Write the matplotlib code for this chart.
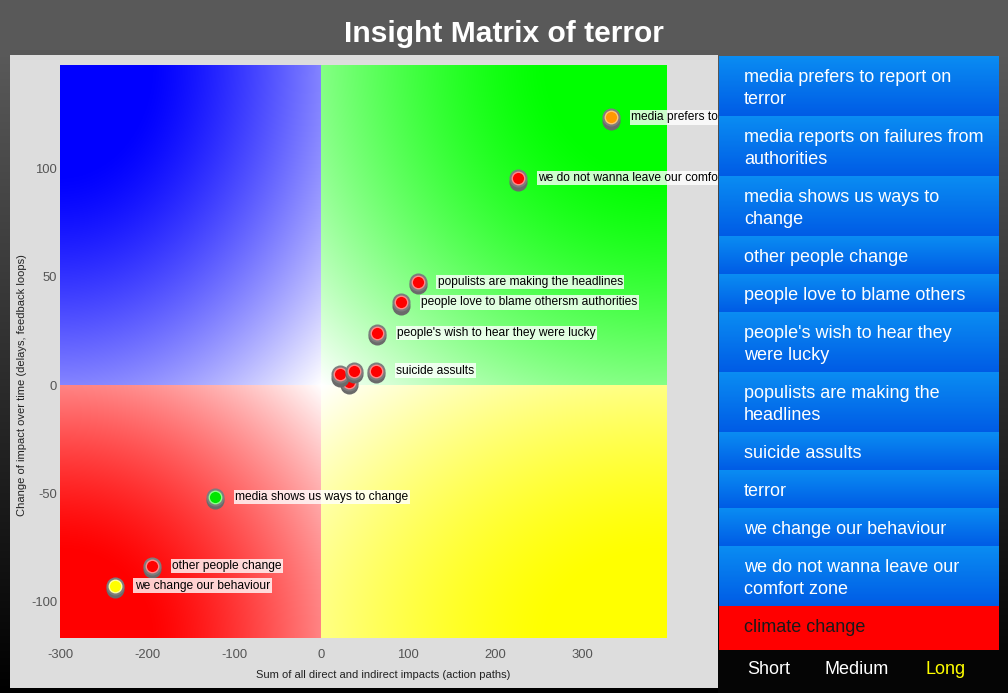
import matplotlib as mpl
mpl.use("Agg")

import matplotlib.pyplot as plt              # noqa
import numpy as np                           # noqa
from matplotlib.patches import Rectangle     # noqa
from matplotlib.transforms import offset_copy  # noqa

plt.rcParams['font.family'] = ['Liberation Sans', 'DejaVu Sans']
plt.rcParams['axes.unicode_minus'] = False

# ---- data ----
title = 'Insight Matrix of terror'
xlabel = 'Sum of all direct and indirect impacts (action paths)'
ylabel = 'Change of impact over time (delays, feedback loops)'

# drawing order matters: later points sit on top of earlier ones
point_names = ['climate change', 'terror', 'media reports on failures from authorities',
               'suicide assults', "people's wish to hear they were lucky",
               'people love to blame others', 'populists are making the headlines',
               'we do not wanna leave our comfort zone', 'media prefers to report on terror',
               'media shows us ways to change', 'other people change', 'we change our behaviour']
point_labels = ['', '', '',
                'suicide assults', "people's wish to hear they were lucky",
                'people love to blame othersm authorities', 'populists are making the headlines',
                'we do not wanna leave our comfort zone', 'media prefers to report on terror',
                'media shows us ways to change', 'other people change', 'we change our behaviour']
x_vals = [32, 22, 38, 63, 64, 92, 111, 226, 333, -122, -194, -237]
y_vals = [1.4, 5.0, 6.5, 6.5, 24.0, 38.2, 47.5, 95.4, 123.5, -51.6, -83.4, -92.6]
point_kind = ['red', 'red', 'red', 'red', 'red', 'red', 'red', 'red', 'orange',
              'green', 'red', 'yellow']

xticks = [-300, -200, -100, 0, 100, 200, 300]
yticks = [-100, -50, 0, 50, 100]
xlim = (-300, 397)
ylim = (-116.6, 147.5)

panel_items = ['media prefers to report on\nterror', 'media reports on failures from\nauthorities',
               'media shows us ways to\nchange', 'other people change',
               'people love to blame others', "people's wish to hear they\nwere lucky",
               'populists are making the\nheadlines', 'suicide assults', 'terror',
               'we change our behaviour', 'we do not wanna leave our\ncomfort zone',
               'climate change']
selected_item = 'climate change'
horizons = ['Short', 'Medium', 'Long']
active_horizon = 'Long'

# ---- styles ----
kind_colors = {'red': ('#ff0000', '#ff8a8a'), 'orange': ('#ff9900', '#ffc870'),
               'green': ('#00e600', '#8cff8c'), 'yellow': ('#ffff00', '#ffffa0')}

W, H = 1008, 693
fig = plt.figure(figsize=(W / 100, H / 100), dpi=100)

# full-figure pixel axes for the frame, title and side panel
axf = fig.add_axes([0, 0, 1, 1], zorder=0)
axf.set_xlim(0, W)
axf.set_ylim(H, 0)
axf.axis('off')

grad = np.ones((H, 1, 3))
v = np.clip((np.arange(H) - 55) / (H - 55), 0, 1)
shade = 0.35 * (1 - v)
grad[:, 0, :] = shade[:, None]
axf.imshow(grad, extent=[0, W, H, 0], aspect='auto', interpolation='bilinear', zorder=0)

chart_rect = Rectangle((10, 55), 708, 633, facecolor='#dddddd', edgecolor='none', zorder=1)
axf.add_patch(chart_rect)

axf.text(W / 2, 42, title, color='white', fontsize=21.6, fontweight='bold',
         ha='center', va='baseline', zorder=5)
axf.text(383, 675, xlabel, fontsize=8, color='#222222', ha='center', va='center', zorder=5)
axf.text(22, 385, ylabel, fontsize=8, color='#222222', ha='center', va='center',
         rotation=90, zorder=5)

# side panel
top = 56
for item in panel_items:
    lines = item.split('\n')
    h = 16 + 22 * len(lines)
    if item == selected_item:
        h += 6
        axf.add_patch(Rectangle((719, top), 280, h, facecolor='#ff0000', edgecolor='none', zorder=2))
        tcol = '#1a1a1a'
    else:
        g = np.linspace(0, 1, 50)[:, None, None]
        ctop = np.array([0.04, 0.55, 0.95])
        cbot = np.array([0.0, 0.36, 0.90])
        axf.imshow(ctop + g * (cbot - ctop), extent=[719, 999, top + h, top],
                   aspect='auto', interpolation='bilinear', zorder=2)
        tcol = 'white'
    for k, ln in enumerate(lines):
        axf.text(744, top + 19 + 22 * k, ln, color=tcol, fontsize=12.96,
                 ha='left', va='center_baseline', zorder=3)
    top += h

axf.add_patch(Rectangle((718, top), W - 718, H - top, facecolor='#050505', edgecolor='none', zorder=2))
for name, cx in zip(horizons, [769, 857, 946]):
    axf.text(cx, 669, name, color='#ffff00' if name == active_horizon else 'white',
             fontsize=12.96, ha='center', va='center', zorder=3)

# ---- the matrix ----
x0, y0, x1, y1 = 60, 65, 667, 638
ax = fig.add_axes([x0 / W, 1 - y1 / H, (x1 - x0) / W, (y1 - y0) / H], zorder=1)
ax.set_facecolor('none')

# each quadrant: radial fade from its outer corner (full colour) to white at the origin
quads = [((xlim[0], 0, 0, ylim[1]), (0, 0, 1)),
         ((0, xlim[1], 0, ylim[1]), (0, 1, 0)),
         ((xlim[0], 0, ylim[0], 0), (1, 0, 0)),
         ((0, xlim[1], ylim[0], 0), (1, 1, 0))]
n = 300
for (qa, qb, qc, qd), base in quads:
    xs = np.linspace(qa, qb, n)
    ys = np.linspace(qc, qd, n)
    X, Y = np.meshgrid(xs, ys)
    ex = 1 - np.abs(X) / max(abs(qa), abs(qb))
    ey = 1 - np.abs(Y) / max(abs(qc), abs(qd))
    d = np.sqrt(ex ** 2 + ey ** 2) / np.sqrt(2)
    u = np.clip((d - 0.24) / 0.76, 0, 1)
    f = (1 - u ** 1.35)[..., None]
    img = 1 - f * (1 - np.array(base))
    ax.imshow(img, extent=[qa, qb, qc, qd], origin='lower', aspect='auto',
              interpolation='bilinear', zorder=0)

shadow = offset_copy(ax.transData, fig=fig, x=0, y=-3.5, units='dots')
label_tr = offset_copy(ax.transData, fig=fig, x=20, y=0, units='dots')
for i, (x, y, kind, lab) in enumerate(zip(x_vals, y_vals, point_kind, point_labels)):
    z = 3 + 3 * i
    face, ring = kind_colors[kind]
    ax.plot(x, y, 'o', ms=13, mfc='#6a6a6a', mec='none', transform=shadow, zorder=z)
    ax.plot(x, y, 'o', ms=13, mfc='#7d7d7d', mec='none', zorder=z + 1)
    ax.plot(x, y, 'o', ms=9.0, mfc=face, mec=ring, mew=1.0, zorder=z + 2)
    if lab:
        t = ax.text(x, y, lab, transform=label_tr, fontsize=8.64, color='black',
                    ha='left', va='center', zorder=100, clip_on=True,
                    bbox=dict(boxstyle='square,pad=0.12', fc='white', ec='none', alpha=0.8))
        t.set_clip_path(chart_rect)

ax.set_xlim(*xlim)
ax.set_ylim(*ylim)
ax.set_xticks(xticks)
ax.set_yticks(yticks)
ax.tick_params(length=0, labelsize=9.4, labelcolor='#555555')
ax.tick_params(axis='x', pad=8)
ax.tick_params(axis='y', pad=2)
for s in ax.spines.values():
    s.set_visible(False)

plt.savefig('out.png', dpi=100)
